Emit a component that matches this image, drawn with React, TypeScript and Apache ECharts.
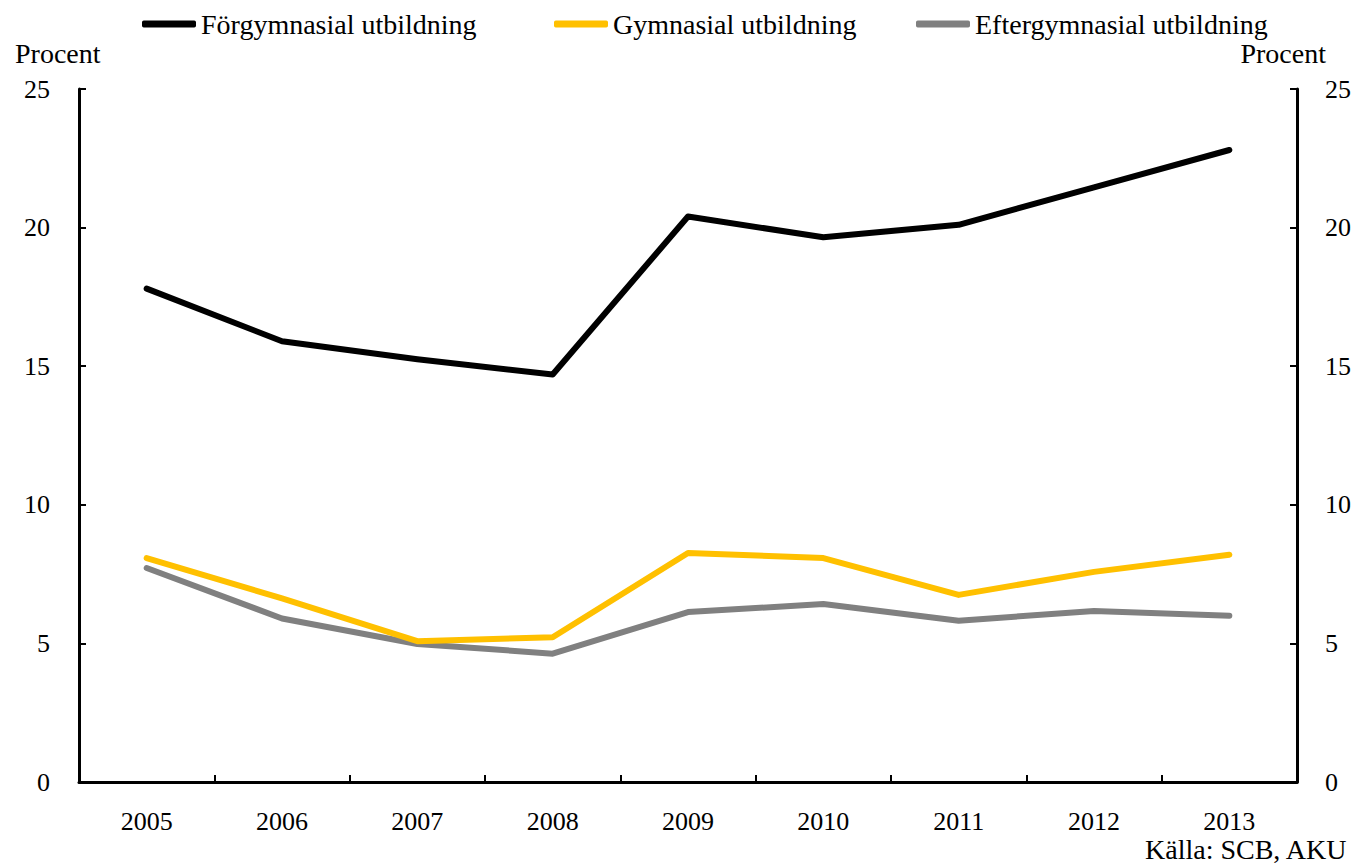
import React, { useEffect, useRef } from "react";
import * as echarts from "echarts";

const years = ["2005", "2006", "2007", "2008", "2009", "2010", "2011", "2012", "2013"];
const forgymnasial = [17.8, 15.9, 15.25, 14.7, 20.4, 19.65, 20.1, 21.45, 22.8];
const gymnasial = [8.08, 6.62, 5.08, 5.22, 8.26, 8.08, 6.75, 7.58, 8.2];
const eftergymnasial = [7.72, 5.9, 4.98, 4.63, 6.13, 6.42, 5.82, 6.17, 6.0];
const seriesNames = ["Förgymnasial utbildning", "Gymnasial utbildning", "Eftergymnasial utbildning"];
const seriesColors = ["#000000", "#FFC000", "#808080"];

const FONT = "'Liberation Serif', 'DejaVu Serif', serif";

export default function App() {
  const ref = useRef<HTMLDivElement>(null);
  useEffect(() => {
    document.body.style.margin = "0";
    const chart = echarts.init(ref.current!, null, { renderer: "svg" });
    const datasets = [forgymnasial, gymnasial, eftergymnasial];
    const legendLefts = [137, 549, 911];
    const yAxisCommon = {
      type: "value",
      min: 0,
      max: 25,
      interval: 5,
      splitLine: { show: false },
      axisLine: { show: true, lineStyle: { color: "#000", width: 3 } },
      axisTick: { show: true, inside: true, length: 7, lineStyle: { color: "#000", width: 2 } },
    };
    chart.setOption({
      animation: false,
      backgroundColor: "#fff",
      textStyle: { fontFamily: FONT },
      grid: { left: 79, right: 55, top: 89, bottom: 83 },
      legend: seriesNames.map((n, i) => ({
        data: [{ name: n, icon: "roundRect" }],
        left: legendLefts[i],
        top: 5,
        itemWidth: 54,
        itemHeight: 7,
        textStyle: { fontFamily: FONT, fontSize: 28, color: "#000" },
        selectedMode: false,
      })),
      xAxis: {
        type: "category",
        data: years,
        boundaryGap: true,
        axisLine: { lineStyle: { color: "#000", width: 3 } },
        axisTick: { show: true, inside: true, length: 7, lineStyle: { color: "#000", width: 2 } },
        axisLabel: { color: "#000", fontSize: 26, fontFamily: FONT, margin: 26 },
      },
      yAxis: [
        {
          ...yAxisCommon,
          position: "left",
          axisLabel: { color: "#000", fontSize: 26, fontFamily: FONT, margin: 29 },
        },
        {
          ...yAxisCommon,
          position: "right",
          axisLabel: { color: "#000", fontSize: 26, fontFamily: FONT, margin: 28 },
        },
      ],
      graphic: [
        {
          type: "text",
          left: 15,
          top: 39,
          style: { text: "Procent", font: `28px ${FONT}`, fill: "#000" },
        },
        {
          type: "text",
          right: 28,
          top: 39,
          style: { text: "Procent", font: `28px ${FONT}`, fill: "#000" },
        },
        {
          type: "text",
          right: 6,
          top: 835,
          style: { text: "Källa: SCB, AKU", font: `28px ${FONT}`, fill: "#000" },
        },
      ],
      series: seriesNames.map((n, i) => ({
        name: n,
        type: "line",
        data: datasets[i],
        yAxisIndex: 0,
        symbol: "none",
        showSymbol: false,
        color: seriesColors[i],
        lineStyle: { color: seriesColors[i], width: 6, cap: "round", join: "round" },
        z: 10 - i,
      })),
    });
    return () => chart.dispose();
  }, []);
  return <div ref={ref} style={{ width: 1354, height: 865 }} />;
}
